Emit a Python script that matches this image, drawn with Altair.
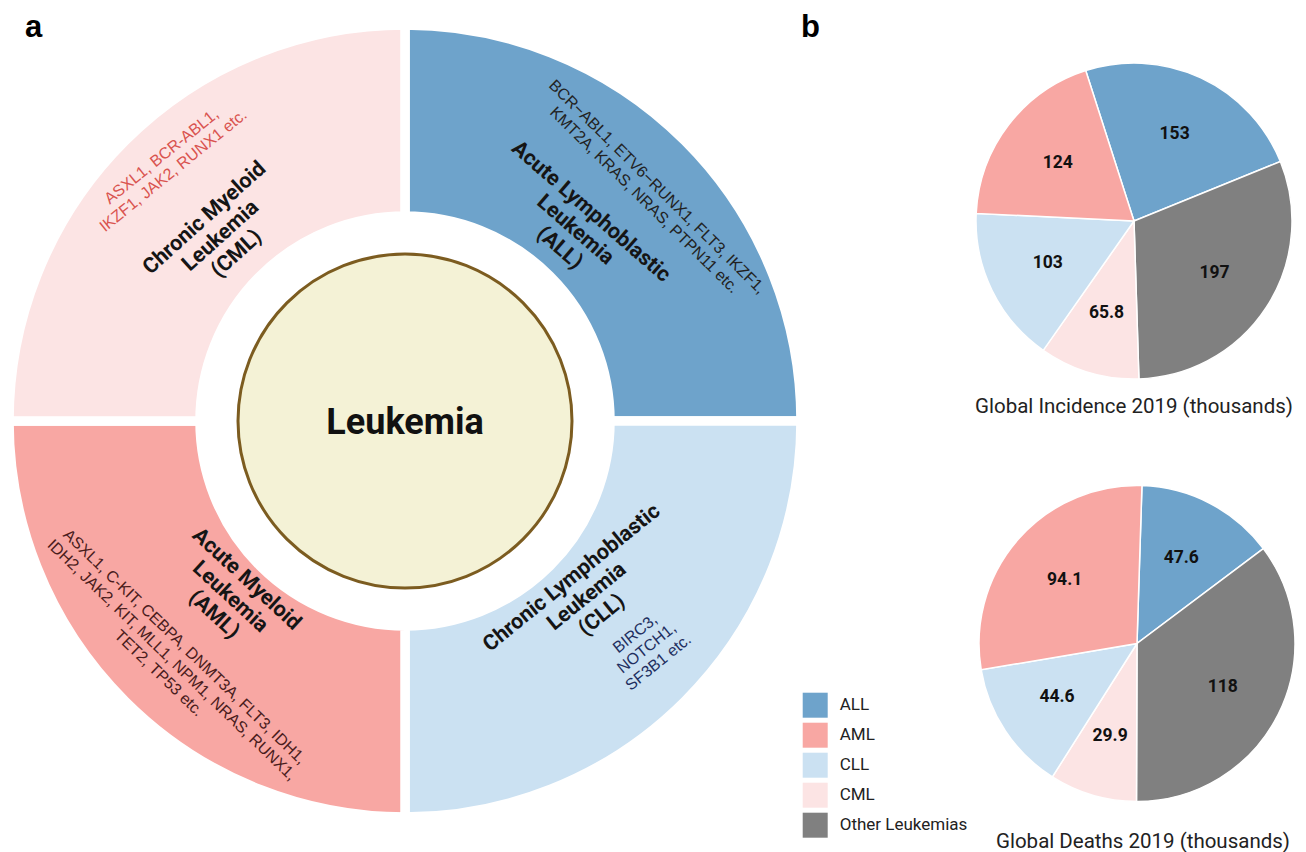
import math
import altair as alt
import pandas as pd

# ---------------- data ----------------
# panel a: the four subtypes, clockwise from 12 o'clock, equal quarters
ring_subtypes = ["ALL", "CLL", "AML", "CML"]
ring_share = [1, 1, 1, 1]
ring_titles = [
    "Acute Lymphoblastic\nLeukemia\n(ALL)",
    "Chronic Lymphoblastic\nLeukemia\n(CLL)",
    "Acute Myeloid\nLeukemia\n(AML)",
    "Chronic Myeloid\nLeukemia\n(CML)",
]
ring_genes = [
    "BCR\u2212ABL1, ETV6\u2212RUNX1, FLT3, IKZF1,\nKMT2A, KRAS, NRAS, PTPN11 etc.",
    "BIRC3,\nNOTCH1,\nSF3B1 etc.",
    "ASXL1, C-KIT, CEBPA, DNMT3A, FLT3, IDH1,\nIDH2, JAK2, KIT, MLL1, NPM1, NRAS, RUNX1,\nTET2, TP53 etc.",
    "ASXL1, BCR-ABL1,\nIKZF1, JAK2, RUNX1 etc.",
]
center_label = ["Leukemia"]

# panel b: pies, clockwise order
pie_categories = ["ALL", "Other Leukemias", "CML", "CLL", "AML"]
incidence = [153, 197, 65.8, 103, 124]
incidence_text = ["153", "197", "65.8", "103", "124"]
deaths = [47.6, 118, 29.9, 44.6, 94.1]
deaths_text = ["47.6", "118", "29.9", "44.6", "94.1"]
pie_titles = ["Global Incidence 2019 (thousands)", "Global Deaths 2019 (thousands)"]
panel_letters = ["a", "b"]

legend_order = ["ALL", "AML", "CLL", "CML", "Other Leukemias"]
legend_colors = ["#6ea3cb", "#f8a7a3", "#cbe1f2", "#fce4e4", "#808080"]

# ---------------- layout (styling / placement) ----------------
W, H = 1290, 844
DCX, DCY = 397, 413            # donut centre
R_OUT, R_IN, GAP = 396, 205, 9.5
R_CIRCLE = 167
INC_CX, INC_CY = 1126, 213
DEA_CX, DEA_CY = 1129, 635.5
PIE_R, PIE_LABEL_R = 158, 96
INC_START = math.radians(-17.8)
DEA_START = math.radians(1.8)

TITLE_FS, TITLE_LH = 21.5, 24
GENE_FS, GENE_LH = 16, 18.5

# polar placement of each subtype's text block centre: (theta deg, radius px, rotation deg)
title_place = [(41.7, 255.7, 41), (134.0, 253.0, -39), (224.8, 248.2, 42.7), (315.1, 261.0, -42)]
gene_place = [(47.2, 334.8, 44.6), (133.2, 331.6, -39), (224.3, 334.0, 44), (317.3, 350.3, -39)]
gene_colors = ["#222222", "#1f2f60", "#4a1c1c", "#d9534f"]

FONT = "Roboto"


def first_line_anchor(place, txt, lh):
    """Vega draws line 1 of a multi-line label at its anchor: move the anchor
    from the block centre to the first line (along the text's 'up' direction)."""
    th, r, rot = place
    n = txt.count("\n") + 1
    px, py = r * math.sin(math.radians(th)), -r * math.cos(math.radians(th))
    ux, uy = math.sin(math.radians(rot)), -math.cos(math.radians(rot))
    k = (n - 1) / 2 * lh
    qx, qy = px + ux * k, py + uy * k
    return math.atan2(qx, -qy), math.hypot(qx, qy), rot


color_scale = alt.Scale(domain=legend_order, range=legend_colors)
legend = alt.Legend(
    orient="none", legendX=794.7, legendY=684.7, title=None,
    symbolType="square", symbolSize=625, symbolStrokeWidth=0,
    labelFont=FONT, labelFontSize=17, labelColor="#222222",
    rowPadding=5, labelOffset=12, padding=0,
)
color_enc = alt.Color("cat:N", scale=color_scale, legend=legend)

# ---------------- panel a ----------------
ring_df = pd.DataFrame({"cat": ring_subtypes, "share": ring_share,
                        "idx": list(range(len(ring_subtypes)))})
ring = alt.Chart(ring_df).mark_arc(
    outerRadius=R_OUT, innerRadius=R_IN, stroke="white", strokeWidth=GAP, strokeJoin="miter"
).encode(
    theta=alt.Theta("share:Q", stack=True),
    color=color_enc,
    order=alt.Order("idx:Q"),
    x=alt.value(DCX), y=alt.value(DCY),
)

circle_df = pd.DataFrame({"label": center_label})
circle = alt.Chart(circle_df).mark_arc(
    theta=0, theta2=2 * math.pi, outerRadius=R_CIRCLE,
    fill="#f4f2d6", stroke="#7c5c20", strokeWidth=3,
).encode(x=alt.value(DCX), y=alt.value(DCY))

center_text = alt.Chart(circle_df).mark_text(
    font=FONT, fontSize=36, fontWeight="bold", color="#111111",
    align="center", baseline="alphabetic", dy=12.5,
).encode(x=alt.value(DCX), y=alt.value(DCY), text="label:N")

t_anchor = [first_line_anchor(p, s, TITLE_LH) for p, s in zip(title_place, ring_titles)]
titles_df = pd.DataFrame({
    "txt": ring_titles,
    "t": [a[0] for a in t_anchor],
    "r": [a[1] for a in t_anchor],
    "rot": [a[2] for a in t_anchor],
})
titles = alt.Chart(titles_df).mark_text(
    font=FONT, fontSize=TITLE_FS, fontWeight="bold", color="#151515",
    lineBreak="\n", lineHeight=TITLE_LH, align="center", baseline="middle",
).encode(
    x=alt.value(DCX), y=alt.value(DCY),
    theta=alt.Theta("t:Q", scale=None),
    radius=alt.Radius("r:Q", scale=None),
    angle=alt.Angle("rot:Q", scale=None),
    text="txt:N",
)

g_anchor = [first_line_anchor(p, s, GENE_LH) for p, s in zip(gene_place, ring_genes)]
genes_df = pd.DataFrame({
    "txt": ring_genes,
    "t": [a[0] for a in g_anchor],
    "r": [a[1] for a in g_anchor],
    "rot": [a[2] for a in g_anchor],
    "col": gene_colors,
})
genes = alt.Chart(genes_df).mark_text(
    font="Liberation Sans", fontSize=GENE_FS, lineBreak="\n", lineHeight=GENE_LH,
    align="center", baseline="middle",
).encode(
    x=alt.value(DCX), y=alt.value(DCY),
    theta=alt.Theta("t:Q", scale=None),
    radius=alt.Radius("r:Q", scale=None),
    angle=alt.Angle("rot:Q", scale=None),
    color=alt.Color("col:N", scale=None, legend=None),
    text="txt:N",
)

# ---------------- panel b ----------------
def pie(values, texts, start, cx, cy):
    df = pd.DataFrame({"cat": pie_categories, "v": values, "lab": texts,
                       "k": list(range(len(values)))})
    th = alt.Theta("v:Q", stack=True,
                   scale=alt.Scale(range=[start, start + 2 * math.pi]))
    arcs = alt.Chart(df).mark_arc(
        outerRadius=PIE_R, stroke="white", strokeWidth=1.5
    ).encode(theta=th, color=color_enc, order=alt.Order("k:Q"),
             x=alt.value(cx), y=alt.value(cy))
    labels = alt.Chart(df).mark_text(
        radius=PIE_LABEL_R, font=FONT, fontSize=17.5, fontWeight="bold",
        color="#111111", align="center", baseline="middle",
    ).encode(theta=th, order=alt.Order("k:Q"), detail="cat:N", text="lab:N",
             x=alt.value(cx), y=alt.value(cy))
    return arcs, labels

inc_arcs, inc_labels = pie(incidence, incidence_text, INC_START, INC_CX, INC_CY)
dea_arcs, dea_labels = pie(deaths, deaths_text, DEA_START, DEA_CX, DEA_CY)

def caption(txt, x, y):
    return alt.Chart(pd.DataFrame({"s": [txt]})).mark_text(
        font=FONT, fontSize=20.5, color="#222222", align="center", baseline="alphabetic"
    ).encode(x=alt.value(x), y=alt.value(y), text="s:N")

inc_title = caption(pie_titles[0], INC_CX, 405)
dea_title = caption(pie_titles[1], 1135, 840)

def letter(txt, x, y):
    return alt.Chart(pd.DataFrame({"s": [txt]})).mark_text(
        font="Liberation Sans", fontSize=31, fontWeight="bold", color="#000000",
        align="left", baseline="alphabetic"
    ).encode(x=alt.value(x), y=alt.value(y), text="s:N")

letter_a = letter(panel_letters[0], 17, 28.5)
letter_b = letter(panel_letters[1], 793, 28.5)

chart = alt.layer(
    ring, circle, center_text, titles, genes,
    inc_arcs, inc_labels, dea_arcs, dea_labels,
    inc_title, dea_title, letter_a, letter_b,
).resolve_scale(theta="independent").properties(
    width=W, height=H, padding=0,
    autosize=alt.AutoSizeParams(type="none"),
    background="white",
).configure_view(stroke=None)

chart.save("out.html", embed_options={"renderer": "svg", "actions": False})
